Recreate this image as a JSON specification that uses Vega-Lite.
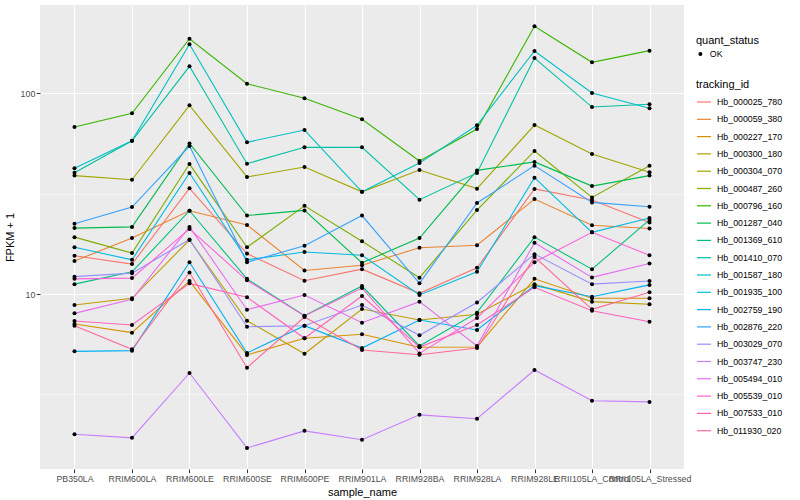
{
  "$schema": "https://vega.github.io/schema/vega-lite/v6.json",
  "autosize": "none",
  "padding": {"left": 40, "top": 5, "right": 116, "bottom": 31},
  "width": 644,
  "height": 464,
  "config": {
    "font": "Liberation Sans",
    "view": {"fill": "#EBEBEB", "stroke": null},
    "background": "white"
  },
  "data": {
    "values": [
      {"sample":"PB350LA","id":"Hb_000025_780","fpkm":15.5,"status":"OK"},
      {"sample":"RRIM600LA","id":"Hb_000025_780","fpkm":14.1,"status":"OK"},
      {"sample":"RRIM600LE","id":"Hb_000025_780","fpkm":33.6,"status":"OK"},
      {"sample":"RRIM600SE","id":"Hb_000025_780","fpkm":15.9,"status":"OK"},
      {"sample":"RRIM600PE","id":"Hb_000025_780","fpkm":11.65,"status":"OK"},
      {"sample":"RRIM901LA","id":"Hb_000025_780","fpkm":13.3,"status":"OK"},
      {"sample":"RRIM928BA","id":"Hb_000025_780","fpkm":10.08,"status":"OK"},
      {"sample":"RRIM928LA","id":"Hb_000025_780","fpkm":13.5,"status":"OK"},
      {"sample":"RRIM928LE","id":"Hb_000025_780","fpkm":33.4,"status":"OK"},
      {"sample":"RRII105LA_Control","id":"Hb_000025_780","fpkm":29.4,"status":"OK"},
      {"sample":"RRII105LA_Stressed","id":"Hb_000025_780","fpkm":22.7,"status":"OK"},

      {"sample":"PB350LA","id":"Hb_000059_380","fpkm":14.6,"status":"OK"},
      {"sample":"RRIM600LA","id":"Hb_000059_380","fpkm":19.0,"status":"OK"},
      {"sample":"RRIM600LE","id":"Hb_000059_380","fpkm":26.0,"status":"OK"},
      {"sample":"RRIM600SE","id":"Hb_000059_380","fpkm":22.1,"status":"OK"},
      {"sample":"RRIM600PE","id":"Hb_000059_380","fpkm":13.1,"status":"OK"},
      {"sample":"RRIM901LA","id":"Hb_000059_380","fpkm":13.9,"status":"OK"},
      {"sample":"RRIM928BA","id":"Hb_000059_380","fpkm":17.0,"status":"OK"},
      {"sample":"RRIM928LA","id":"Hb_000059_380","fpkm":17.5,"status":"OK"},
      {"sample":"RRIM928LE","id":"Hb_000059_380","fpkm":29.7,"status":"OK"},
      {"sample":"RRII105LA_Control","id":"Hb_000059_380","fpkm":22.0,"status":"OK"},
      {"sample":"RRII105LA_Stressed","id":"Hb_000059_380","fpkm":21.2,"status":"OK"},

      {"sample":"PB350LA","id":"Hb_000227_170","fpkm":7.09,"status":"OK"},
      {"sample":"RRIM600LA","id":"Hb_000227_170","fpkm":6.42,"status":"OK"},
      {"sample":"RRIM600LE","id":"Hb_000227_170","fpkm":11.6,"status":"OK"},
      {"sample":"RRIM600SE","id":"Hb_000227_170","fpkm":4.97,"status":"OK"},
      {"sample":"RRIM600PE","id":"Hb_000227_170","fpkm":6.02,"status":"OK"},
      {"sample":"RRIM901LA","id":"Hb_000227_170","fpkm":6.30,"status":"OK"},
      {"sample":"RRIM928BA","id":"Hb_000227_170","fpkm":5.43,"status":"OK"},
      {"sample":"RRIM928LA","id":"Hb_000227_170","fpkm":5.44,"status":"OK"},
      {"sample":"RRIM928LE","id":"Hb_000227_170","fpkm":11.9,"status":"OK"},
      {"sample":"RRII105LA_Control","id":"Hb_000227_170","fpkm":9.52,"status":"OK"},
      {"sample":"RRII105LA_Stressed","id":"Hb_000227_170","fpkm":9.52,"status":"OK"},

      {"sample":"PB350LA","id":"Hb_000300_180","fpkm":8.81,"status":"OK"},
      {"sample":"RRIM600LA","id":"Hb_000300_180","fpkm":9.52,"status":"OK"},
      {"sample":"RRIM600LE","id":"Hb_000300_180","fpkm":18.6,"status":"OK"},
      {"sample":"RRIM600SE","id":"Hb_000300_180","fpkm":7.36,"status":"OK"},
      {"sample":"RRIM600PE","id":"Hb_000300_180","fpkm":5.04,"status":"OK"},
      {"sample":"RRIM901LA","id":"Hb_000300_180","fpkm":8.42,"status":"OK"},
      {"sample":"RRIM928BA","id":"Hb_000300_180","fpkm":7.42,"status":"OK"},
      {"sample":"RRIM928LA","id":"Hb_000300_180","fpkm":7.92,"status":"OK"},
      {"sample":"RRIM928LE","id":"Hb_000300_180","fpkm":11.2,"status":"OK"},
      {"sample":"RRII105LA_Control","id":"Hb_000300_180","fpkm":9.16,"status":"OK"},
      {"sample":"RRII105LA_Stressed","id":"Hb_000300_180","fpkm":8.89,"status":"OK"},

      {"sample":"PB350LA","id":"Hb_000304_070","fpkm":38.9,"status":"OK"},
      {"sample":"RRIM600LA","id":"Hb_000304_070","fpkm":37.1,"status":"OK"},
      {"sample":"RRIM600LE","id":"Hb_000304_070","fpkm":87.1,"status":"OK"},
      {"sample":"RRIM600SE","id":"Hb_000304_070","fpkm":38.3,"status":"OK"},
      {"sample":"RRIM600PE","id":"Hb_000304_070","fpkm":42.9,"status":"OK"},
      {"sample":"RRIM901LA","id":"Hb_000304_070","fpkm":32.3,"status":"OK"},
      {"sample":"RRIM928BA","id":"Hb_000304_070","fpkm":41.5,"status":"OK"},
      {"sample":"RRIM928LA","id":"Hb_000304_070","fpkm":33.5,"status":"OK"},
      {"sample":"RRIM928LE","id":"Hb_000304_070","fpkm":69.5,"status":"OK"},
      {"sample":"RRII105LA_Control","id":"Hb_000304_070","fpkm":49.8,"status":"OK"},
      {"sample":"RRII105LA_Stressed","id":"Hb_000304_070","fpkm":40.4,"status":"OK"},

      {"sample":"PB350LA","id":"Hb_000487_260","fpkm":19.2,"status":"OK"},
      {"sample":"RRIM600LA","id":"Hb_000487_260","fpkm":16.0,"status":"OK"},
      {"sample":"RRIM600LE","id":"Hb_000487_260","fpkm":44.4,"status":"OK"},
      {"sample":"RRIM600SE","id":"Hb_000487_260","fpkm":17.1,"status":"OK"},
      {"sample":"RRIM600PE","id":"Hb_000487_260","fpkm":27.5,"status":"OK"},
      {"sample":"RRIM901LA","id":"Hb_000487_260","fpkm":18.3,"status":"OK"},
      {"sample":"RRIM928BA","id":"Hb_000487_260","fpkm":12.06,"status":"OK"},
      {"sample":"RRIM928LA","id":"Hb_000487_260","fpkm":26.2,"status":"OK"},
      {"sample":"RRIM928LE","id":"Hb_000487_260","fpkm":51.6,"status":"OK"},
      {"sample":"RRII105LA_Control","id":"Hb_000487_260","fpkm":30.3,"status":"OK"},
      {"sample":"RRII105LA_Stressed","id":"Hb_000487_260","fpkm":43.6,"status":"OK"},

      {"sample":"PB350LA","id":"Hb_000796_160","fpkm":67.95,"status":"OK"},
      {"sample":"RRIM600LA","id":"Hb_000796_160","fpkm":79.5,"status":"OK"},
      {"sample":"RRIM600LE","id":"Hb_000796_160","fpkm":187.1,"status":"OK"},
      {"sample":"RRIM600SE","id":"Hb_000796_160","fpkm":111.6,"status":"OK"},
      {"sample":"RRIM600PE","id":"Hb_000796_160","fpkm":94.4,"status":"OK"},
      {"sample":"RRIM901LA","id":"Hb_000796_160","fpkm":74.2,"status":"OK"},
      {"sample":"RRIM928BA","id":"Hb_000796_160","fpkm":46.0,"status":"OK"},
      {"sample":"RRIM928LA","id":"Hb_000796_160","fpkm":66.4,"status":"OK"},
      {"sample":"RRIM928LE","id":"Hb_000796_160","fpkm":215.7,"status":"OK"},
      {"sample":"RRII105LA_Control","id":"Hb_000796_160","fpkm":142.7,"status":"OK"},
      {"sample":"RRII105LA_Stressed","id":"Hb_000796_160","fpkm":163.1,"status":"OK"},

      {"sample":"PB350LA","id":"Hb_001287_040","fpkm":21.3,"status":"OK"},
      {"sample":"RRIM600LA","id":"Hb_001287_040","fpkm":21.6,"status":"OK"},
      {"sample":"RRIM600LE","id":"Hb_001287_040","fpkm":56.2,"status":"OK"},
      {"sample":"RRIM600SE","id":"Hb_001287_040","fpkm":24.6,"status":"OK"},
      {"sample":"RRIM600PE","id":"Hb_001287_040","fpkm":26.1,"status":"OK"},
      {"sample":"RRIM901LA","id":"Hb_001287_040","fpkm":14.3,"status":"OK"},
      {"sample":"RRIM928BA","id":"Hb_001287_040","fpkm":19.0,"status":"OK"},
      {"sample":"RRIM928LA","id":"Hb_001287_040","fpkm":41.3,"status":"OK"},
      {"sample":"RRIM928LE","id":"Hb_001287_040","fpkm":45.5,"status":"OK"},
      {"sample":"RRII105LA_Control","id":"Hb_001287_040","fpkm":34.5,"status":"OK"},
      {"sample":"RRII105LA_Stressed","id":"Hb_001287_040","fpkm":38.9,"status":"OK"},

      {"sample":"PB350LA","id":"Hb_001369_610","fpkm":11.2,"status":"OK"},
      {"sample":"RRIM600LA","id":"Hb_001369_610","fpkm":12.9,"status":"OK"},
      {"sample":"RRIM600LE","id":"Hb_001369_610","fpkm":26.0,"status":"OK"},
      {"sample":"RRIM600SE","id":"Hb_001369_610","fpkm":11.9,"status":"OK"},
      {"sample":"RRIM600PE","id":"Hb_001369_610","fpkm":7.80,"status":"OK"},
      {"sample":"RRIM901LA","id":"Hb_001369_610","fpkm":10.96,"status":"OK"},
      {"sample":"RRIM928BA","id":"Hb_001369_610","fpkm":5.51,"status":"OK"},
      {"sample":"RRIM928LA","id":"Hb_001369_610","fpkm":8.07,"status":"OK"},
      {"sample":"RRIM928LE","id":"Hb_001369_610","fpkm":19.2,"status":"OK"},
      {"sample":"RRII105LA_Control","id":"Hb_001369_610","fpkm":13.3,"status":"OK"},
      {"sample":"RRII105LA_Stressed","id":"Hb_001369_610","fpkm":23.4,"status":"OK"},

      {"sample":"PB350LA","id":"Hb_001410_070","fpkm":40.2,"status":"OK"},
      {"sample":"RRIM600LA","id":"Hb_001410_070","fpkm":58.0,"status":"OK"},
      {"sample":"RRIM600LE","id":"Hb_001410_070","fpkm":136.3,"status":"OK"},
      {"sample":"RRIM600SE","id":"Hb_001410_070","fpkm":44.6,"status":"OK"},
      {"sample":"RRIM600PE","id":"Hb_001410_070","fpkm":53.8,"status":"OK"},
      {"sample":"RRIM901LA","id":"Hb_001410_070","fpkm":53.8,"status":"OK"},
      {"sample":"RRIM928BA","id":"Hb_001410_070","fpkm":29.5,"status":"OK"},
      {"sample":"RRIM928LA","id":"Hb_001410_070","fpkm":40.1,"status":"OK"},
      {"sample":"RRIM928LE","id":"Hb_001410_070","fpkm":149.9,"status":"OK"},
      {"sample":"RRII105LA_Control","id":"Hb_001410_070","fpkm":85.4,"status":"OK"},
      {"sample":"RRII105LA_Stressed","id":"Hb_001410_070","fpkm":88.2,"status":"OK"},

      {"sample":"PB350LA","id":"Hb_001587_180","fpkm":42.3,"status":"OK"},
      {"sample":"RRIM600LA","id":"Hb_001587_180","fpkm":58.0,"status":"OK"},
      {"sample":"RRIM600LE","id":"Hb_001587_180","fpkm":175.5,"status":"OK"},
      {"sample":"RRIM600SE","id":"Hb_001587_180","fpkm":57.0,"status":"OK"},
      {"sample":"RRIM600PE","id":"Hb_001587_180","fpkm":65.6,"status":"OK"},
      {"sample":"RRIM901LA","id":"Hb_001587_180","fpkm":32.3,"status":"OK"},
      {"sample":"RRIM928BA","id":"Hb_001587_180","fpkm":44.9,"status":"OK"},
      {"sample":"RRIM928LA","id":"Hb_001587_180","fpkm":69.3,"status":"OK"},
      {"sample":"RRIM928LE","id":"Hb_001587_180","fpkm":162.5,"status":"OK"},
      {"sample":"RRII105LA_Control","id":"Hb_001587_180","fpkm":100.3,"status":"OK"},
      {"sample":"RRII105LA_Stressed","id":"Hb_001587_180","fpkm":84.2,"status":"OK"},

      {"sample":"PB350LA","id":"Hb_001935_100","fpkm":17.1,"status":"OK"},
      {"sample":"RRIM600LA","id":"Hb_001935_100","fpkm":14.8,"status":"OK"},
      {"sample":"RRIM600LE","id":"Hb_001935_100","fpkm":40.1,"status":"OK"},
      {"sample":"RRIM600SE","id":"Hb_001935_100","fpkm":14.8,"status":"OK"},
      {"sample":"RRIM600PE","id":"Hb_001935_100","fpkm":16.2,"status":"OK"},
      {"sample":"RRIM901LA","id":"Hb_001935_100","fpkm":15.6,"status":"OK"},
      {"sample":"RRIM928BA","id":"Hb_001935_100","fpkm":9.89,"status":"OK"},
      {"sample":"RRIM928LA","id":"Hb_001935_100","fpkm":12.9,"status":"OK"},
      {"sample":"RRIM928LE","id":"Hb_001935_100","fpkm":38.0,"status":"OK"},
      {"sample":"RRII105LA_Control","id":"Hb_001935_100","fpkm":20.3,"status":"OK"},
      {"sample":"RRII105LA_Stressed","id":"Hb_001935_100","fpkm":23.9,"status":"OK"},

      {"sample":"PB350LA","id":"Hb_002759_190","fpkm":5.18,"status":"OK"},
      {"sample":"RRIM600LA","id":"Hb_002759_190","fpkm":5.22,"status":"OK"},
      {"sample":"RRIM600LE","id":"Hb_002759_190","fpkm":14.4,"status":"OK"},
      {"sample":"RRIM600SE","id":"Hb_002759_190","fpkm":5.08,"status":"OK"},
      {"sample":"RRIM600PE","id":"Hb_002759_190","fpkm":6.95,"status":"OK"},
      {"sample":"RRIM901LA","id":"Hb_002759_190","fpkm":5.38,"status":"OK"},
      {"sample":"RRIM928BA","id":"Hb_002759_190","fpkm":7.42,"status":"OK"},
      {"sample":"RRIM928LA","id":"Hb_002759_190","fpkm":6.62,"status":"OK"},
      {"sample":"RRIM928LE","id":"Hb_002759_190","fpkm":11.0,"status":"OK"},
      {"sample":"RRII105LA_Control","id":"Hb_002759_190","fpkm":9.69,"status":"OK"},
      {"sample":"RRII105LA_Stressed","id":"Hb_002759_190","fpkm":11.1,"status":"OK"},

      {"sample":"PB350LA","id":"Hb_002876_220","fpkm":22.4,"status":"OK"},
      {"sample":"RRIM600LA","id":"Hb_002876_220","fpkm":27.1,"status":"OK"},
      {"sample":"RRIM600LE","id":"Hb_002876_220","fpkm":54.6,"status":"OK"},
      {"sample":"RRIM600SE","id":"Hb_002876_220","fpkm":14.4,"status":"OK"},
      {"sample":"RRIM600PE","id":"Hb_002876_220","fpkm":17.4,"status":"OK"},
      {"sample":"RRIM901LA","id":"Hb_002876_220","fpkm":24.6,"status":"OK"},
      {"sample":"RRIM928BA","id":"Hb_002876_220","fpkm":11.3,"status":"OK"},
      {"sample":"RRIM928LA","id":"Hb_002876_220","fpkm":28.4,"status":"OK"},
      {"sample":"RRIM928LE","id":"Hb_002876_220","fpkm":43.6,"status":"OK"},
      {"sample":"RRII105LA_Control","id":"Hb_002876_220","fpkm":28.6,"status":"OK"},
      {"sample":"RRII105LA_Stressed","id":"Hb_002876_220","fpkm":27.2,"status":"OK"},

      {"sample":"PB350LA","id":"Hb_003029_070","fpkm":12.2,"status":"OK"},
      {"sample":"RRIM600LA","id":"Hb_003029_070","fpkm":12.7,"status":"OK"},
      {"sample":"RRIM600LE","id":"Hb_003029_070","fpkm":18.7,"status":"OK"},
      {"sample":"RRIM600SE","id":"Hb_003029_070","fpkm":6.87,"status":"OK"},
      {"sample":"RRIM600PE","id":"Hb_003029_070","fpkm":6.95,"status":"OK"},
      {"sample":"RRIM901LA","id":"Hb_003029_070","fpkm":8.81,"status":"OK"},
      {"sample":"RRIM928BA","id":"Hb_003029_070","fpkm":6.23,"status":"OK"},
      {"sample":"RRIM928LA","id":"Hb_003029_070","fpkm":9.07,"status":"OK"},
      {"sample":"RRIM928LE","id":"Hb_003029_070","fpkm":15.8,"status":"OK"},
      {"sample":"RRII105LA_Control","id":"Hb_003029_070","fpkm":11.2,"status":"OK"},
      {"sample":"RRII105LA_Stressed","id":"Hb_003029_070","fpkm":11.6,"status":"OK"},

      {"sample":"PB350LA","id":"Hb_003747_230","fpkm":2.00,"status":"OK"},
      {"sample":"RRIM600LA","id":"Hb_003747_230","fpkm":1.92,"status":"OK"},
      {"sample":"RRIM600LE","id":"Hb_003747_230","fpkm":4.04,"status":"OK"},
      {"sample":"RRIM600SE","id":"Hb_003747_230","fpkm":1.71,"status":"OK"},
      {"sample":"RRIM600PE","id":"Hb_003747_230","fpkm":2.08,"status":"OK"},
      {"sample":"RRIM901LA","id":"Hb_003747_230","fpkm":1.88,"status":"OK"},
      {"sample":"RRIM928BA","id":"Hb_003747_230","fpkm":2.50,"status":"OK"},
      {"sample":"RRIM928LA","id":"Hb_003747_230","fpkm":2.39,"status":"OK"},
      {"sample":"RRIM928LE","id":"Hb_003747_230","fpkm":4.18,"status":"OK"},
      {"sample":"RRII105LA_Control","id":"Hb_003747_230","fpkm":2.94,"status":"OK"},
      {"sample":"RRII105LA_Stressed","id":"Hb_003747_230","fpkm":2.90,"status":"OK"},

      {"sample":"PB350LA","id":"Hb_005494_010","fpkm":8.01,"status":"OK"},
      {"sample":"RRIM600LA","id":"Hb_005494_010","fpkm":9.41,"status":"OK"},
      {"sample":"RRIM600LE","id":"Hb_005494_010","fpkm":21.6,"status":"OK"},
      {"sample":"RRIM600SE","id":"Hb_005494_010","fpkm":8.35,"status":"OK"},
      {"sample":"RRIM600PE","id":"Hb_005494_010","fpkm":9.89,"status":"OK"},
      {"sample":"RRIM901LA","id":"Hb_005494_010","fpkm":7.19,"status":"OK"},
      {"sample":"RRIM928BA","id":"Hb_005494_010","fpkm":9.16,"status":"OK"},
      {"sample":"RRIM928LA","id":"Hb_005494_010","fpkm":5.51,"status":"OK"},
      {"sample":"RRIM928LE","id":"Hb_005494_010","fpkm":18.0,"status":"OK"},
      {"sample":"RRII105LA_Control","id":"Hb_005494_010","fpkm":12.1,"status":"OK"},
      {"sample":"RRII105LA_Stressed","id":"Hb_005494_010","fpkm":14.2,"status":"OK"},

      {"sample":"PB350LA","id":"Hb_005539_010","fpkm":11.9,"status":"OK"},
      {"sample":"RRIM600LA","id":"Hb_005539_010","fpkm":12.0,"status":"OK"},
      {"sample":"RRIM600LE","id":"Hb_005539_010","fpkm":21.1,"status":"OK"},
      {"sample":"RRIM600SE","id":"Hb_005539_010","fpkm":11.7,"status":"OK"},
      {"sample":"RRIM600PE","id":"Hb_005539_010","fpkm":7.77,"status":"OK"},
      {"sample":"RRIM901LA","id":"Hb_005539_010","fpkm":10.7,"status":"OK"},
      {"sample":"RRIM928BA","id":"Hb_005539_010","fpkm":5.06,"status":"OK"},
      {"sample":"RRIM928LA","id":"Hb_005539_010","fpkm":7.59,"status":"OK"},
      {"sample":"RRIM928LE","id":"Hb_005539_010","fpkm":14.4,"status":"OK"},
      {"sample":"RRII105LA_Control","id":"Hb_005539_010","fpkm":20.3,"status":"OK"},
      {"sample":"RRII105LA_Stressed","id":"Hb_005539_010","fpkm":15.6,"status":"OK"},

      {"sample":"PB350LA","id":"Hb_007533_010","fpkm":7.34,"status":"OK"},
      {"sample":"RRIM600LA","id":"Hb_007533_010","fpkm":7.01,"status":"OK"},
      {"sample":"RRIM600LE","id":"Hb_007533_010","fpkm":11.3,"status":"OK"},
      {"sample":"RRIM600SE","id":"Hb_007533_010","fpkm":9.63,"status":"OK"},
      {"sample":"RRIM600PE","id":"Hb_007533_010","fpkm":6.02,"status":"OK"},
      {"sample":"RRIM901LA","id":"Hb_007533_010","fpkm":9.77,"status":"OK"},
      {"sample":"RRIM928BA","id":"Hb_007533_010","fpkm":5.44,"status":"OK"},
      {"sample":"RRIM928LA","id":"Hb_007533_010","fpkm":7.01,"status":"OK"},
      {"sample":"RRIM928LE","id":"Hb_007533_010","fpkm":10.8,"status":"OK"},
      {"sample":"RRII105LA_Control","id":"Hb_007533_010","fpkm":8.26,"status":"OK"},
      {"sample":"RRII105LA_Stressed","id":"Hb_007533_010","fpkm":7.28,"status":"OK"},

      {"sample":"PB350LA","id":"Hb_011930_020","fpkm":6.95,"status":"OK"},
      {"sample":"RRIM600LA","id":"Hb_011930_020","fpkm":5.30,"status":"OK"},
      {"sample":"RRIM600LE","id":"Hb_011930_020","fpkm":12.8,"status":"OK"},
      {"sample":"RRIM600SE","id":"Hb_011930_020","fpkm":4.29,"status":"OK"},
      {"sample":"RRIM600PE","id":"Hb_011930_020","fpkm":7.68,"status":"OK"},
      {"sample":"RRIM901LA","id":"Hb_011930_020","fpkm":5.26,"status":"OK"},
      {"sample":"RRIM928BA","id":"Hb_011930_020","fpkm":4.98,"status":"OK"},
      {"sample":"RRIM928LA","id":"Hb_011930_020","fpkm":5.38,"status":"OK"},
      {"sample":"RRIM928LE","id":"Hb_011930_020","fpkm":15.3,"status":"OK"},
      {"sample":"RRII105LA_Control","id":"Hb_011930_020","fpkm":8.39,"status":"OK"},
      {"sample":"RRII105LA_Stressed","id":"Hb_011930_020","fpkm":10.2,"status":"OK"}
    ]
  },
  "encoding": {
    "x": {
      "field": "sample",
      "type": "nominal",
      "sort": ["PB350LA","RRIM600LA","RRIM600LE","RRIM600SE","RRIM600PE","RRIM901LA","RRIM928BA","RRIM928LA","RRIM928LE","RRII105LA_Control","RRII105LA_Stressed"],
      "scale": {"type": "point", "padding": 0.6},
      "axis": {
        "title": "sample_name",
        "labelAngle": 0,
        "labelOverlap": false,
        "labelFont": "Liberation Sans",
        "labelFontSize": 8.8,
        "labelColor": "#4D4D4D",
        "labelPadding": 1.5,
        "tickColor": "#333333",
        "tickSize": 3.7,
        "tickWidth": 1,
        "domain": false,
        "grid": true,
        "gridColor": "#FFFFFF",
        "gridWidth": 1.1,
        "titleFont": "Liberation Sans",
        "titleFontSize": 11,
        "titleFontWeight": "normal",
        "titleColor": "#000000",
        "titlePadding": 3
      }
    },
    "y": {
      "field": "fpkm",
      "type": "quantitative",
      "scale": {"type": "log", "domain": [1.343, 275.4], "nice": false, "zero": false},
      "axis": {
        "title": "FPKM + 1",
        "values": [3.1623, 10, 31.623, 100],
        "labelExpr": "datum.value == 10 ? '10' : (datum.value == 100 ? '100' : '')",
        "labelFont": "Liberation Sans",
        "labelFontSize": 8.8,
        "labelColor": "#4D4D4D",
        "labelPadding": 1.5,
        "tickColor": "#333333",
        "tickSize": 3.7,
        "tickWidth": 1,
        "tickOpacity": {"condition": {"test": "datum.value == 10 || datum.value == 100", "value": 1}, "value": 0},
        "domain": false,
        "grid": true,
        "gridColor": "#FFFFFF",
        "gridWidth": {"condition": {"test": "datum.value == 10 || datum.value == 100", "value": 1.1}, "value": 0.5},
        "titleFont": "Liberation Sans",
        "titleFontSize": 11,
        "titleFontWeight": "normal",
        "titleColor": "#000000",
        "titlePadding": 5
      }
    }
  },
  "layer": [
    {
      "mark": {"type": "line", "strokeWidth": 1.1},
      "encoding": {
        "color": {
          "field": "id",
          "type": "nominal",
          "scale": {
            "domain": ["Hb_000025_780","Hb_000059_380","Hb_000227_170","Hb_000300_180","Hb_000304_070","Hb_000487_260","Hb_000796_160","Hb_001287_040","Hb_001369_610","Hb_001410_070","Hb_001587_180","Hb_001935_100","Hb_002759_190","Hb_002876_220","Hb_003029_070","Hb_003747_230","Hb_005494_010","Hb_005539_010","Hb_007533_010","Hb_011930_020"],
            "range": ["#F8766D","#EA8331","#D89000","#C09B00","#A3A500","#7CAE00","#39B600","#00BB4E","#00BF7D","#00C1A3","#00BFC4","#00BAE0","#00B0F6","#35A2FF","#9590FF","#C77CFF","#E76BF3","#FA62DB","#FF62BC","#FF6A98"]
          },
          "legend": {
            "title": "tracking_id",
            "orient": "none",
            "legendX": 656,
            "legendY": 74,
            "titleFont": "Liberation Sans",
            "titleFontSize": 11,
            "titleFontWeight": "normal",
            "titleColor": "#000000",
            "titlePadding": 4,
            "labelFont": "Liberation Sans",
            "labelFontSize": 8.8,
            "labelColor": "#000000",
            "labelOffset": 5,
            "symbolType": "stroke",
            "symbolSize": 200,
            "symbolStrokeWidth": 1.2,
            "rowPadding": 4.3,
            "padding": 0
          }
        }
      }
    },
    {
      "mark": {"type": "point", "filled": true, "size": 16, "color": "#000000", "opacity": 1},
      "encoding": {
        "shape": {
          "field": "status",
          "type": "nominal",
          "scale": {"domain": ["OK"], "range": ["circle"]},
          "legend": {
            "title": "quant_status",
            "orient": "none",
            "legendX": 656,
            "legendY": 29.5,
            "titleFont": "Liberation Sans",
            "titleFontSize": 11,
            "titleFontWeight": "normal",
            "titleColor": "#000000",
            "titlePadding": 4,
            "labelFont": "Liberation Sans",
            "labelFontSize": 8.8,
            "labelColor": "#000000",
            "labelOffset": 5,
            "symbolSize": 16,
            "symbolFillColor": "#000000",
            "symbolStrokeColor": "#000000",
            "padding": 0
          }
        }
      }
    }
  ]
}
